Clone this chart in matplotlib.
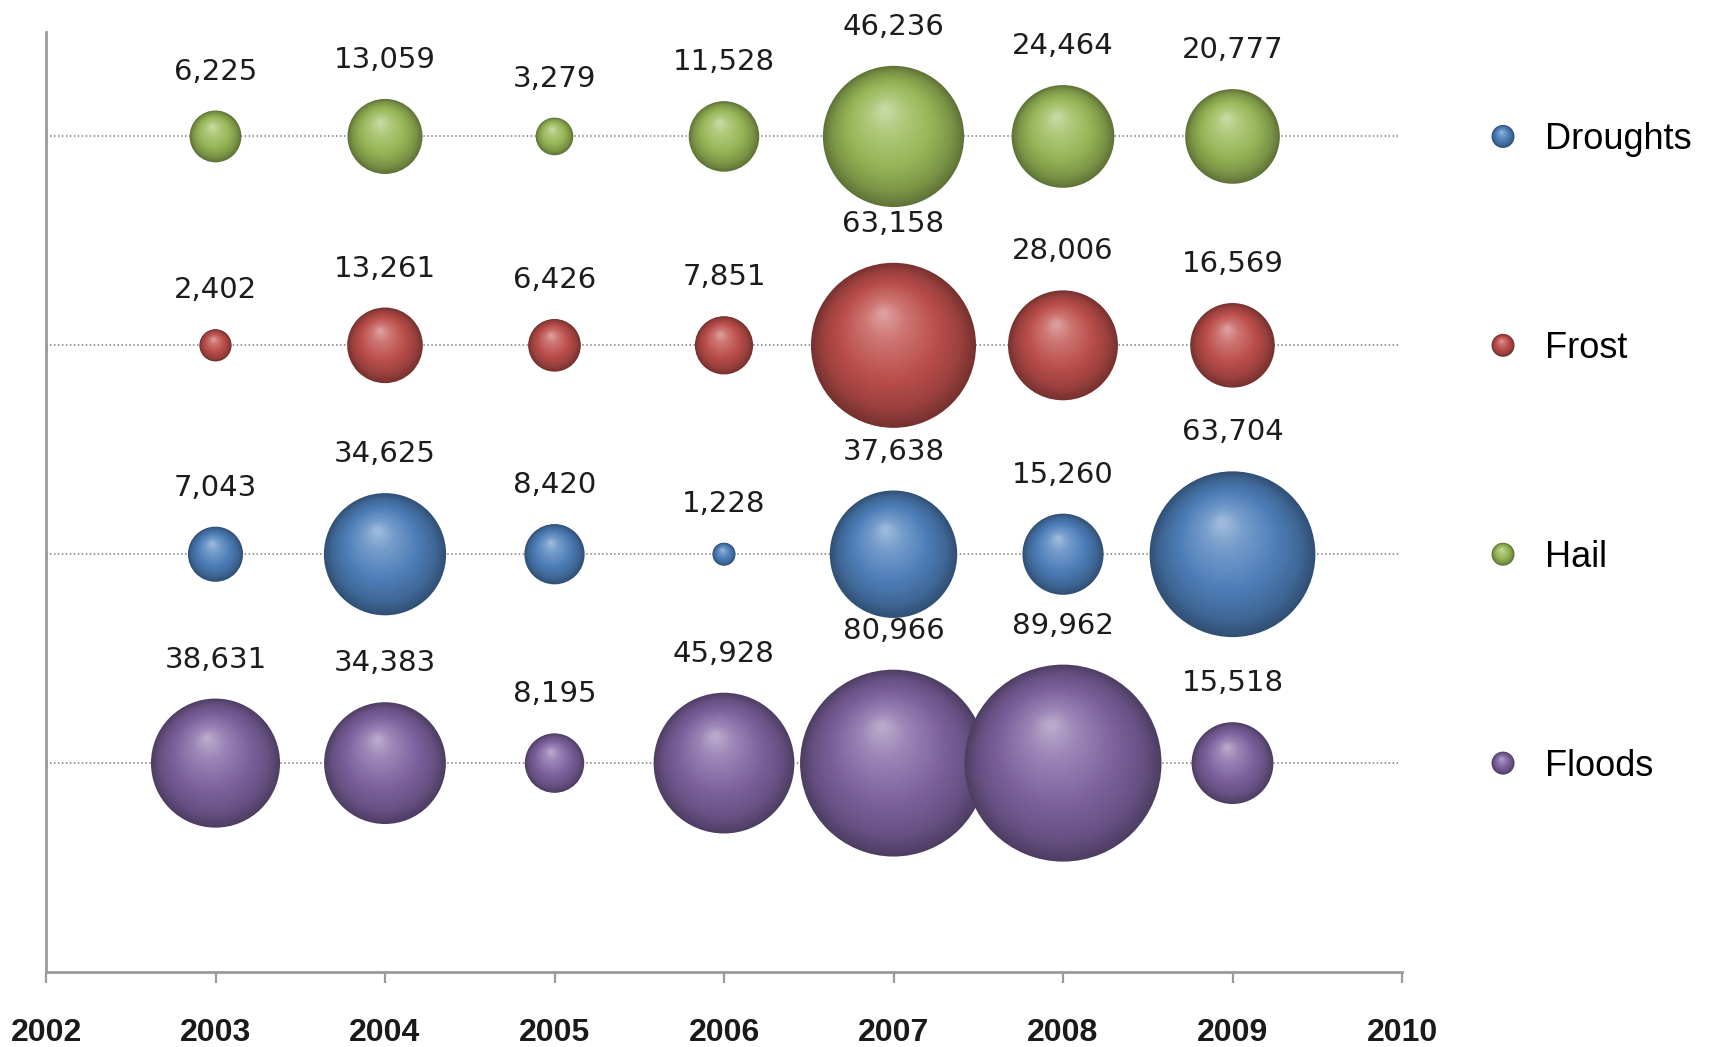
import numpy as np
import matplotlib.pyplot as plt
from matplotlib.colors import to_rgb
from matplotlib.transforms import blended_transform_factory

# --- data ---
years = [2003, 2004, 2005, 2006, 2007, 2008, 2009]
droughts = [7043, 34625, 8420, 1228, 37638, 15260, 63704]
frost = [2402, 13261, 6426, 7851, 63158, 28006, 16569]
hail = [6225, 13059, 3279, 11528, 46236, 24464, 20777]
floods = [38631, 34383, 8195, 45928, 80966, 89962, 15518]

series_names = ['Droughts', 'Frost', 'Hail', 'Floods']
series_values = [droughts, frost, hail, floods]
series_rows = [2, 3, 4, 1]          # which line each series sits on
series_colors = ['#4F81BD', '#C0504D', '#9BBB59', '#8064A2']
legend_rows = [4, 3, 2, 1]           # legend entries, top to bottom

DPI = 100
fig = plt.figure(figsize=(17.11, 10.47), dpi=DPI)
fig.patch.set_facecolor('white')
ax = fig.add_axes([46 / 1711, 75 / 1047, 1356 / 1711, 940 / 1047])
ax.set_xlim(2002, 2010)
ax.set_ylim(0, 4.5)

# pixels per data unit
ax_w = ax.get_position().width * fig.get_figwidth() * DPI
ax_h = ax.get_position().height * fig.get_figheight() * DPI
ppx = ax_w / 8
ppy = ax_h / 4.5

vmax = max(max(v) for v in series_values)
rmax_px = 98.5   # radius of the biggest bubble in pixels


def sphere(x, y, r_px, color, trans, sx, sy, z, n=40):
    """shaded ball made of stacked circles shrinking toward a highlight"""
    base = np.array(to_rgb(color))
    white = np.ones(3)
    ts = np.linspace(1.0, 0.05, n)
    stops_t = [0.0, 0.25, 0.6, 0.85, 1.0]
    stops_c = [base + (white - base) * 0.5,
               base + (white - base) * 0.22,
               base * 0.97,
               base * 0.8,
               base * 0.62]
    cols = np.array([[np.interp(t, stops_t, [c[i] for c in stops_c]) for i in range(3)]
                     for t in ts])
    hx, hy = -0.13 * r_px, 0.4 * r_px
    xs = x + (1 - ts) * hx / sx
    ys = y + (1 - ts) * hy / sy
    sizes = (2 * r_px * ts * 72 / DPI) ** 2
    ax.scatter(xs, ys, s=sizes, c=cols, linewidths=0, transform=trans,
               zorder=z, clip_on=False)


# dotted guide lines
ax.hlines([1, 2, 3, 4], 2002, 2009.98, colors='#7a7a7a',
          linestyles=(0, (1, 1.6)), linewidth=1.1, zorder=1)

z = 3
for name, vals, row, col in zip(series_names, series_values, series_rows, series_colors):
    for yr, v in zip(years, vals):
        r = rmax_px * np.sqrt(v / vmax)
        sphere(yr, row, r, col, ax.transData, ppx, ppy, z)
        z += 1
        ax.annotate(f'{v:,}', (yr, row), xytext=(0, (r + 31) * 72 / DPI),
                    textcoords='offset points', ha='center', va='baseline',
                    fontsize=21, family='DejaVu Sans', color='#1c1c1c', zorder=200)

# legend, aligned with the rows
blend = blended_transform_factory(ax.transAxes, ax.transData)
for name, col, row in zip(series_names, series_colors, legend_rows):
    sphere(1.0745, row, 11.5, col, blend, ax_w, ppy, 300, n=14)
    ax.annotate(name, (1.1055, row), xycoords=blend, xytext=(0, -12.5 * 72 / DPI),
                textcoords='offset points', ha='left', va='baseline',
                fontsize=26, family='Liberation Sans', color='black')

# axes styling
for s in ['top', 'right']:
    ax.spines[s].set_visible(False)
for s in ['left', 'bottom']:
    ax.spines[s].set_color('#9a9a9a')
    ax.spines[s].set_linewidth(2.0)
ax.set_yticks([])
ax.set_xticks(range(2002, 2011))
ax.tick_params(axis='x', direction='out', length=8, width=1.6, color='#9a9a9a', pad=25)
for lab in ax.get_xticklabels():
    lab.set_family('Liberation Sans')
    lab.set_fontweight('bold')
    lab.set_fontsize(23)
    lab.set_color('#1a1a1a')

fig.savefig('out.png', dpi=DPI, facecolor='white')
